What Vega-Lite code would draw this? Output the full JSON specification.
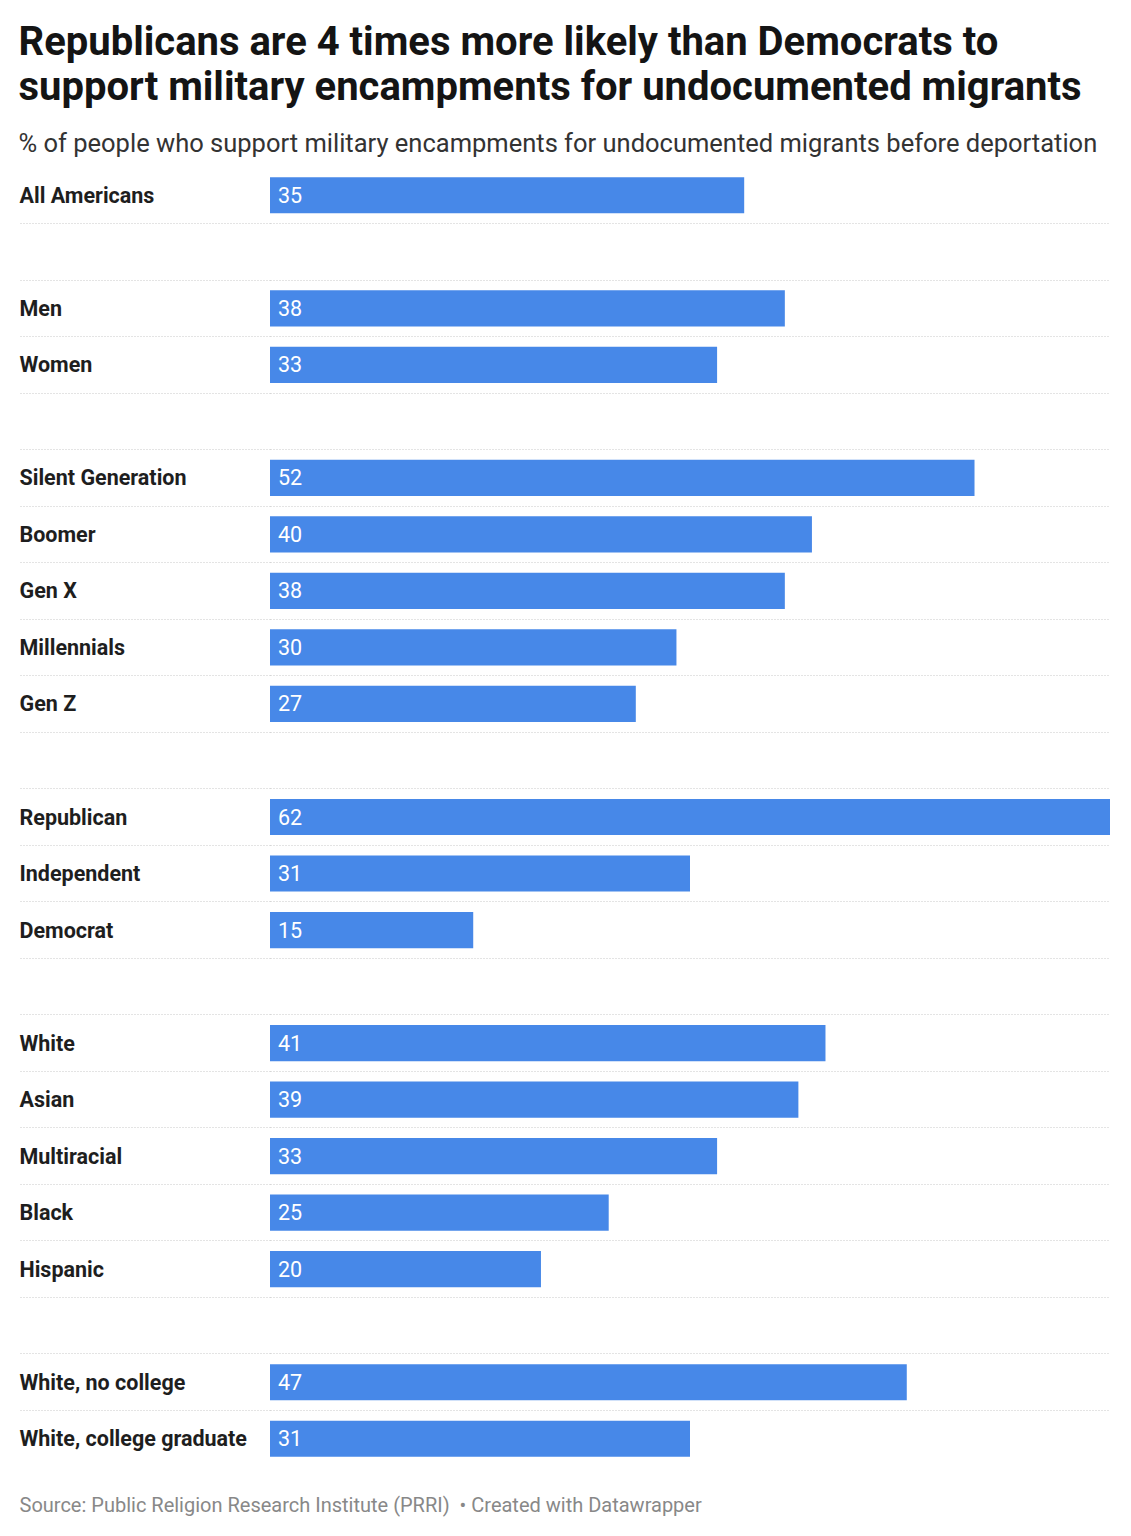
{
  "$schema": "https://vega.github.io/schema/vega-lite/v6.json",
  "width": 840,
  "height": 1300,
  "padding": {"left": 18, "top": 22, "right": 22, "bottom": 10},
  "background": "white",
  "config": {"font": "Roboto", "view": {"stroke": null}},
  "title": {
    "text": ["Republicans are 4 times more likely than Democrats to", "support military encampments for undocumented migrants"],
    "subtitle": "% of people who support military encampments for undocumented migrants before deportation",
    "anchor": "start",
    "frame": "bounds",
    "font": "Roboto",
    "fontSize": 40,
    "fontWeight": "bold",
    "color": "#141414",
    "lineHeight": 45,
    "subtitleFont": "Roboto",
    "subtitleFontSize": 25.5,
    "subtitleColor": "#333333",
    "subtitlePadding": 24,
    "offset": 10
  },
  "data": {
    "values": [
      {"row": "01 All Americans", "value": 35},
      {"row": "02", "value": null},
      {"row": "03 Men", "value": 38},
      {"row": "04 Women", "value": 33},
      {"row": "05", "value": null},
      {"row": "06 Silent Generation", "value": 52},
      {"row": "07 Boomer", "value": 40},
      {"row": "08 Gen X", "value": 38},
      {"row": "09 Millennials", "value": 30},
      {"row": "10 Gen Z", "value": 27},
      {"row": "11", "value": null},
      {"row": "12 Republican", "value": 62},
      {"row": "13 Independent", "value": 31},
      {"row": "14 Democrat", "value": 15},
      {"row": "15", "value": null},
      {"row": "16 White", "value": 41},
      {"row": "17 Asian", "value": 39},
      {"row": "18 Multiracial", "value": 33},
      {"row": "19 Black", "value": 25},
      {"row": "20 Hispanic", "value": 20},
      {"row": "21", "value": null},
      {"row": "22 White, no college", "value": 47},
      {"row": "23 White, college graduate", "value": 31}
    ]
  },
  "encoding": {
    "y": {
      "field": "row",
      "type": "nominal",
      "sort": "ascending",
      "scale": {"paddingInner": 0, "paddingOuter": 0},
      "axis": {
        "title": null,
        "domain": false,
        "bandPosition": 1,
        "ticks": true,
        "tickSize": 251,
        "tickColor": "#c8c8c8",
        "tickDash": [1, 2],
        "tickWidth": 1,
        "tickOpacity": {"condition": {"test": "datum.value === '23 White, college graduate'", "value": 0}, "value": 1},
        "grid": true,
        "gridColor": "#c8c8c8",
        "gridDash": [1, 2],
        "gridWidth": 1,
        "gridOpacity": {"condition": {"test": "datum.value === '23 White, college graduate'", "value": 0}, "value": 1},
        "labelExpr": "slice(datum.value, 3)",
        "labelAlign": "left",
        "labelBaseline": "middle",
        "labelPadding": 0,
        "labelOffset": 1.5,
        "labelFont": "Roboto",
        "labelFontWeight": "bold",
        "labelFontSize": 21.5,
        "labelColor": "#1e1e1e",
        "labelLimit": 260
      }
    }
  },
  "layer": [
    {
      "mark": {"type": "bar", "color": "#4788e8", "height": {"band": 0.64}},
      "encoding": {
        "x": {
          "field": "value",
          "type": "quantitative",
          "scale": {"domain": [0, 62], "nice": false},
          "axis": {
            "title": "Source: Public Religion Research Institute (PRRI)\u00a0 • Created with Datawrapper",
            "labels": false,
            "ticks": false,
            "domain": false,
            "grid": false,
            "titleX": -251,
            "titleY": 38,
            "titleAlign": "left",
            "titleBaseline": "middle",
            "titleFont": "Roboto",
            "titleFontSize": 20,
            "titleFontWeight": "normal",
            "titleColor": "#888888"
          }
        }
      }
    },
    {
      "mark": {"type": "text", "align": "left", "baseline": "middle", "dx": 8, "dy": 1.5, "font": "Roboto", "fontSize": 21.5, "color": "#ffffff"},
      "encoding": {
        "x": {"datum": 0},
        "text": {"condition": {"test": "!isValid(datum.value)", "value": ""}, "field": "value", "type": "quantitative"}
      }
    }
  ]
}
